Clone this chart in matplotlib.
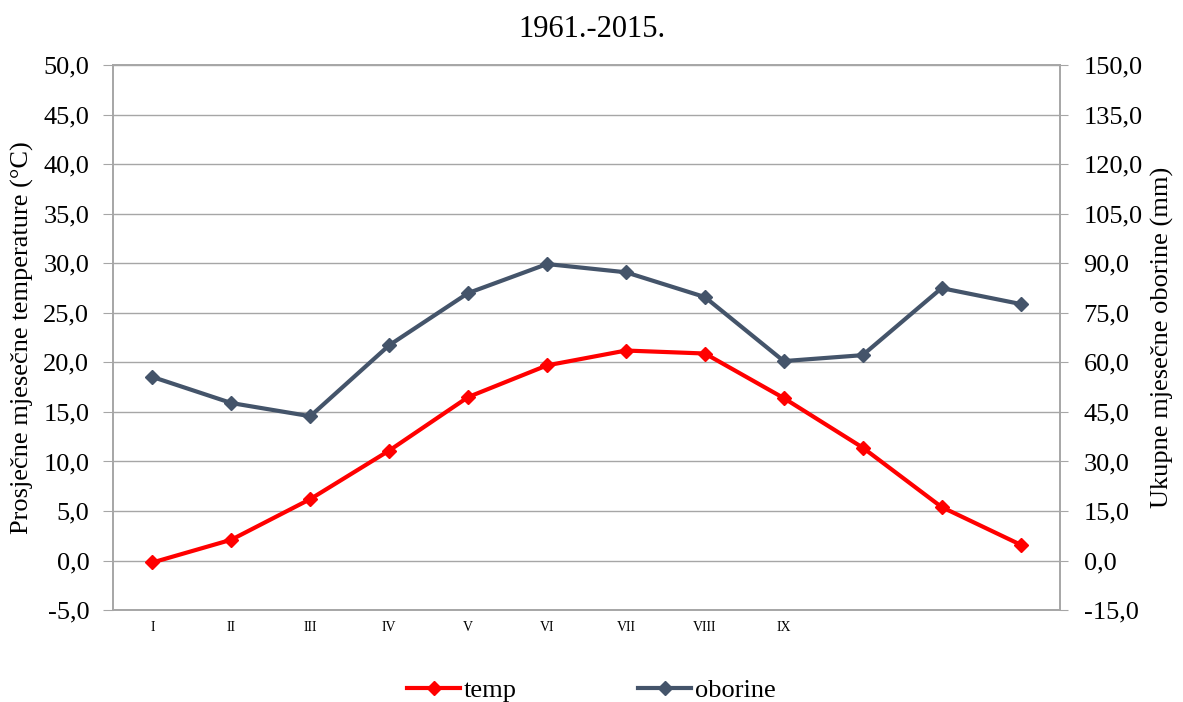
import matplotlib
matplotlib.use("Agg")
import matplotlib.pyplot as plt
from matplotlib.ticker import FuncFormatter, MultipleLocator

plt.rcParams['font.family'] = ['Liberation Serif', 'DejaVu Serif']

months = ["I", "II", "III", "IV", "V", "VI", "VII", "VIII", "IX", "", "", ""]
temp = [-0.2, 2.1, 6.2, 11.1, 16.5, 19.7, 21.2, 20.9, 16.4, 11.4, 5.4, 1.6]
oborine = [55.6, 47.7, 43.7, 65.2, 81.0, 89.8, 87.3, 79.8, 60.4, 62.2, 82.5, 77.7]

title = "1961.-2015."
ylabel_left = "Prosječne mjesečne temperature (°C)"
ylabel_right = "Ukupne mjesečne oborine (mm)"

temp_color = "#FF0000"
obor_color = "#44546A"
grid_color = "#A6A6A6"

fig = plt.figure(figsize=(11.83, 7.02), dpi=100)
ax = fig.add_axes([0.0955, 0.131, 0.8005, 0.776])
ax2 = ax.twinx()

x = list(range(len(months)))
l1, = ax.plot(x, temp, color=temp_color, lw=3, marker='D', ms=7.5, label="temp")
l2, = ax2.plot(x, oborine, color=obor_color, lw=3, marker='D', ms=7.5, label="oborine")

ax.set_xlim(-0.5, len(months) - 0.5)
ax.set_ylim(-5, 50)
ax2.set_ylim(-15, 150)
ax.yaxis.set_major_locator(MultipleLocator(5))
ax2.yaxis.set_major_locator(MultipleLocator(15))
fmt = FuncFormatter(lambda v, p: f"{v:.1f}".replace('.', ','))
ax.yaxis.set_major_formatter(fmt)
ax2.yaxis.set_major_formatter(fmt)

ax.set_xticks(x)
ax.set_xticklabels(months, fontsize=10)
ax.tick_params(axis='x', length=0, pad=8)
ax.tick_params(axis='y', labelsize=19, length=7, color=grid_color, pad=10)
ax2.tick_params(axis='y', labelsize=19, length=6, color=grid_color, pad=11)

ax.grid(axis='y', color=grid_color, lw=1)
ax.set_axisbelow(True)
for a in (ax, ax2):
    for s in a.spines.values():
        s.set_color(grid_color)
        s.set_linewidth(1.2)

ax.set_ylabel(ylabel_left, fontsize=19, labelpad=7)
ax2.set_ylabel(ylabel_right, fontsize=19, labelpad=6)
fig.text(0.5, 0.958, title, ha='center', va='center', fontsize=22)

fig.legend(handles=[l1, l2], loc='center', bbox_to_anchor=(0.5, 0.017), ncol=2,
           frameon=False, fontsize=19, columnspacing=4.6, handlelength=2.0,
           handletextpad=0.15)

fig.savefig("out.png", dpi=100)
